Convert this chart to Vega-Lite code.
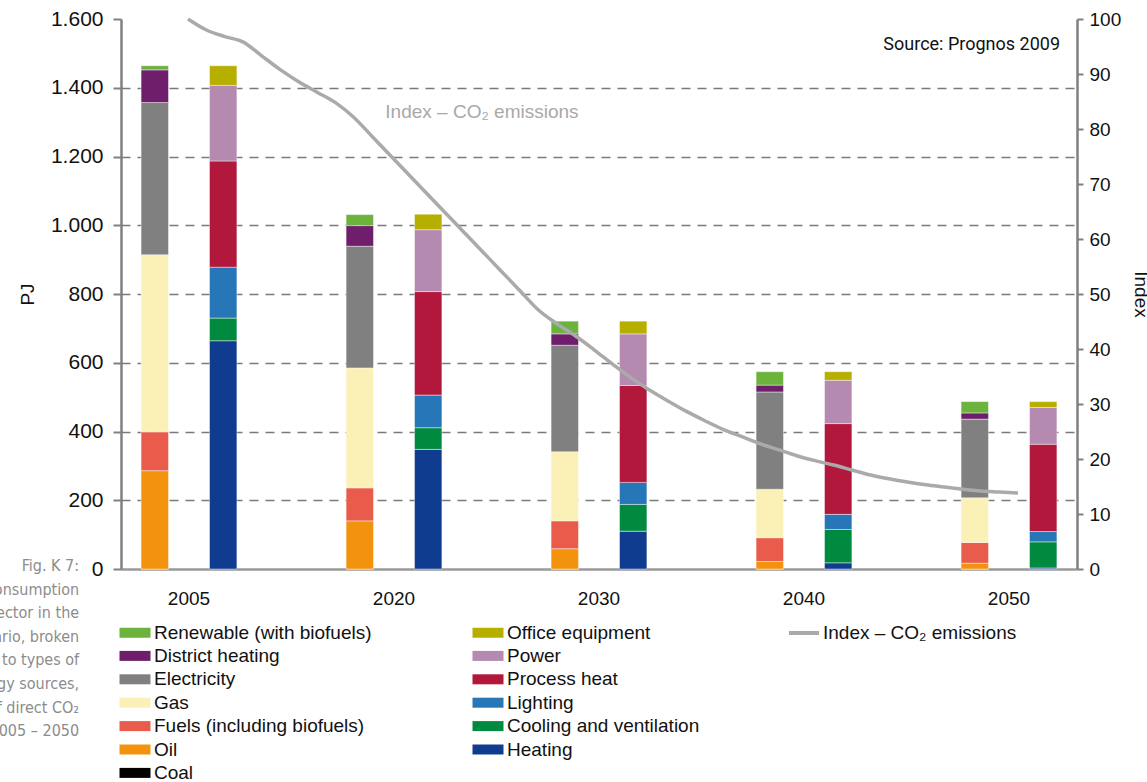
{
  "$schema": "https://vega.github.io/schema/vega-lite/v6.json",
  "width": 956,
  "height": 550,
  "autosize": {"type": "none"},
  "padding": {"left": 121, "top": 19, "right": 70, "bottom": 213},
  "background": "white",
  "config": {
    "view": {"stroke": null},
    "font": "Liberation Sans",
    "axis": {"labelFont": "Liberation Sans", "titleFont": "Liberation Sans", "labelColor": "#111111", "titleColor": "#111111", "titleFontWeight": "normal"},
    "legend": {"labelFont": "Liberation Sans", "labelColor": "#111111"}
  },
  "datasets": {
    "bars": [
      {"year": "2005", "kind": "source", "cat": "Coal", "pj": 0},
      {"year": "2005", "kind": "source", "cat": "Oil", "pj": 286},
      {"year": "2005", "kind": "source", "cat": "Fuels (including biofuels)", "pj": 113},
      {"year": "2005", "kind": "source", "cat": "Gas", "pj": 515},
      {"year": "2005", "kind": "source", "cat": "Electricity", "pj": 443},
      {"year": "2005", "kind": "source", "cat": "District heating", "pj": 95},
      {"year": "2005", "kind": "source", "cat": "Renewable (with biofuels)", "pj": 12},
      {"year": "2005", "kind": "use", "cat": "Heating", "pj": 664},
      {"year": "2005", "kind": "use", "cat": "Cooling and ventilation", "pj": 66},
      {"year": "2005", "kind": "use", "cat": "Lighting", "pj": 148},
      {"year": "2005", "kind": "use", "cat": "Process heat", "pj": 309},
      {"year": "2005", "kind": "use", "cat": "Power", "pj": 220},
      {"year": "2005", "kind": "use", "cat": "Office equipment", "pj": 57},
      {"year": "2020", "kind": "source", "cat": "Coal", "pj": 0},
      {"year": "2020", "kind": "source", "cat": "Oil", "pj": 140},
      {"year": "2020", "kind": "source", "cat": "Fuels (including biofuels)", "pj": 96},
      {"year": "2020", "kind": "source", "cat": "Gas", "pj": 349},
      {"year": "2020", "kind": "source", "cat": "Electricity", "pj": 354},
      {"year": "2020", "kind": "source", "cat": "District heating", "pj": 60},
      {"year": "2020", "kind": "source", "cat": "Renewable (with biofuels)", "pj": 32},
      {"year": "2020", "kind": "use", "cat": "Heating", "pj": 348},
      {"year": "2020", "kind": "use", "cat": "Cooling and ventilation", "pj": 63},
      {"year": "2020", "kind": "use", "cat": "Lighting", "pj": 95},
      {"year": "2020", "kind": "use", "cat": "Process heat", "pj": 301},
      {"year": "2020", "kind": "use", "cat": "Power", "pj": 180},
      {"year": "2020", "kind": "use", "cat": "Office equipment", "pj": 45},
      {"year": "2030", "kind": "source", "cat": "Coal", "pj": 0},
      {"year": "2030", "kind": "source", "cat": "Oil", "pj": 59},
      {"year": "2030", "kind": "source", "cat": "Fuels (including biofuels)", "pj": 81},
      {"year": "2030", "kind": "source", "cat": "Gas", "pj": 201},
      {"year": "2030", "kind": "source", "cat": "Electricity", "pj": 310},
      {"year": "2030", "kind": "source", "cat": "District heating", "pj": 33},
      {"year": "2030", "kind": "source", "cat": "Renewable (with biofuels)", "pj": 37},
      {"year": "2030", "kind": "use", "cat": "Heating", "pj": 110},
      {"year": "2030", "kind": "use", "cat": "Cooling and ventilation", "pj": 78},
      {"year": "2030", "kind": "use", "cat": "Lighting", "pj": 64},
      {"year": "2030", "kind": "use", "cat": "Process heat", "pj": 282},
      {"year": "2030", "kind": "use", "cat": "Power", "pj": 150},
      {"year": "2030", "kind": "use", "cat": "Office equipment", "pj": 37},
      {"year": "2040", "kind": "source", "cat": "Coal", "pj": 0},
      {"year": "2040", "kind": "source", "cat": "Oil", "pj": 22},
      {"year": "2040", "kind": "source", "cat": "Fuels (including biofuels)", "pj": 69},
      {"year": "2040", "kind": "source", "cat": "Gas", "pj": 141},
      {"year": "2040", "kind": "source", "cat": "Electricity", "pj": 283},
      {"year": "2040", "kind": "source", "cat": "District heating", "pj": 20},
      {"year": "2040", "kind": "source", "cat": "Renewable (with biofuels)", "pj": 39},
      {"year": "2040", "kind": "use", "cat": "Heating", "pj": 18},
      {"year": "2040", "kind": "use", "cat": "Cooling and ventilation", "pj": 97},
      {"year": "2040", "kind": "use", "cat": "Lighting", "pj": 44},
      {"year": "2040", "kind": "use", "cat": "Process heat", "pj": 264},
      {"year": "2040", "kind": "use", "cat": "Power", "pj": 126},
      {"year": "2040", "kind": "use", "cat": "Office equipment", "pj": 25},
      {"year": "2050", "kind": "source", "cat": "Coal", "pj": 0},
      {"year": "2050", "kind": "source", "cat": "Oil", "pj": 17},
      {"year": "2050", "kind": "source", "cat": "Fuels (including biofuels)", "pj": 60},
      {"year": "2050", "kind": "source", "cat": "Gas", "pj": 130},
      {"year": "2050", "kind": "source", "cat": "Electricity", "pj": 229},
      {"year": "2050", "kind": "source", "cat": "District heating", "pj": 18},
      {"year": "2050", "kind": "source", "cat": "Renewable (with biofuels)", "pj": 33},
      {"year": "2050", "kind": "use", "cat": "Heating", "pj": 3},
      {"year": "2050", "kind": "use", "cat": "Cooling and ventilation", "pj": 76},
      {"year": "2050", "kind": "use", "cat": "Lighting", "pj": 30},
      {"year": "2050", "kind": "use", "cat": "Process heat", "pj": 254},
      {"year": "2050", "kind": "use", "cat": "Power", "pj": 107},
      {"year": "2050", "kind": "use", "cat": "Office equipment", "pj": 17}
    ],
    "index": [
      {"yr": 2005, "idx": 100}, {"yr": 2006, "idx": 98}, {"yr": 2007, "idx": 96.8}, {"yr": 2008, "idx": 95.8},
      {"yr": 2009, "idx": 93.3}, {"yr": 2010, "idx": 90.8}, {"yr": 2011, "idx": 88.6}, {"yr": 2012, "idx": 86.7},
      {"yr": 2013, "idx": 84.8}, {"yr": 2014, "idx": 82.1}, {"yr": 2015, "idx": 78.6}, {"yr": 2016, "idx": 75.1},
      {"yr": 2017, "idx": 71.6}, {"yr": 2018, "idx": 68.1}, {"yr": 2019, "idx": 64.6}, {"yr": 2020, "idx": 61.1},
      {"yr": 2021, "idx": 57.6}, {"yr": 2022, "idx": 54.1}, {"yr": 2023, "idx": 50.6}, {"yr": 2024, "idx": 47.1},
      {"yr": 2025, "idx": 44.6}, {"yr": 2026, "idx": 42.4}, {"yr": 2027, "idx": 39.9}, {"yr": 2028, "idx": 37.3},
      {"yr": 2029, "idx": 34.8}, {"yr": 2030, "idx": 32.6}, {"yr": 2031, "idx": 30.6}, {"yr": 2032, "idx": 28.7},
      {"yr": 2033, "idx": 27}, {"yr": 2034, "idx": 25.4}, {"yr": 2035, "idx": 24.1}, {"yr": 2036, "idx": 22.8},
      {"yr": 2037, "idx": 21.7}, {"yr": 2038, "idx": 20.6}, {"yr": 2039, "idx": 19.7}, {"yr": 2040, "idx": 18.9},
      {"yr": 2041, "idx": 18}, {"yr": 2042, "idx": 17.1}, {"yr": 2043, "idx": 16.4}, {"yr": 2044, "idx": 15.8},
      {"yr": 2045, "idx": 15.3}, {"yr": 2046, "idx": 14.9}, {"yr": 2047, "idx": 14.5}, {"yr": 2048, "idx": 14.2},
      {"yr": 2049, "idx": 14}, {"yr": 2050, "idx": 13.8}
    ]
  },
  "layer": [
    {
      "data": {"name": "bars"},
      "transform": [
        {"calculate": "indexof(['Coal','Oil','Fuels (including biofuels)','Gas','Electricity','District heating','Renewable (with biofuels)','Heating','Cooling and ventilation','Lighting','Process heat','Power','Office equipment'], datum.cat)", "as": "ord"}
      ],
      "mark": {"type": "bar", "stroke": "#ffffff", "strokeWidth": 0.6, "strokeOpacity": 0.7},
      "encoding": {
        "x": {
          "field": "year", "type": "nominal",
          "scale": {"paddingInner": 0.5, "paddingOuter": 0.0817},
          "axis": {"title": null, "labelAngle": 0, "ticks": false, "domainColor": "#999999", "domainWidth": 2.5, "labelPadding": 20, "labelFontSize": 19}
        },
        "xOffset": {"field": "kind", "type": "nominal", "scale": {"paddingInner": 0.6, "paddingOuter": 0.049}},
        "y": {
          "field": "pj", "type": "quantitative", "stack": "zero",
          "scale": {"domain": [0, 1600], "nice": false},
          "axis": {
            "title": "PJ", "values": [0, 200, 400, 600, 800, 1000, 1200, 1400, 1600],
            "labelExpr": "replace(format(datum.value, ','), ',', '.')",
            "tickSize": 8, "tickColor": "#808080", "tickWidth": 2,
            "domainColor": "#808080", "domainWidth": 2.5,
            "labelPadding": 10, "labelFontSize": 21,
            "grid": true, "gridDash": [9, 7], "gridColor": "#7a7a7a", "gridWidth": 1.6,
            "gridOpacity": {"condition": {"test": "datum.value === 0 || datum.value === 1600", "value": 0}, "value": 1},
            "titleFontSize": 19, "titlePadding": 13
          }
        },
        "color": {
          "field": "cat", "type": "nominal",
          "scale": {
            "domain": ["Renewable (with biofuels)", "District heating", "Electricity", "Gas", "Fuels (including biofuels)", "Oil", "Coal", "Office equipment", "Power", "Process heat", "Lighting", "Cooling and ventilation", "Heating"],
            "range": ["#6CB33E", "#6E1E6B", "#808080", "#FBF0B5", "#E95B4B", "#F3920D", "#000000", "#B7AF00", "#B48AB0", "#B2173C", "#2676B8", "#008A40", "#0F3C8F"]
          },
          "legend": {
            "orient": "none", "legendX": -6, "legendY": 604, "columns": 2, "columnPadding": 96, "rowPadding": 3.4,
            "symbolType": "M-1,-1H5.2V1H-1Z", "symbolSize": 100, "symbolStrokeWidth": 0, "symbolOpacity": 1,
            "labelFontSize": 19, "labelOffset": 20, "labelLimit": 400, "title": null
          }
        },
        "order": {"field": "ord", "type": "quantitative", "sort": "ascending"}
      }
    },
    {
      "layer": [
        {
          "data": {"name": "index"},
          "mark": {"type": "line", "strokeWidth": 3.5, "interpolate": "monotone"},
          "encoding": {
            "x": {"field": "yr", "type": "quantitative", "scale": {"domain": [2001.37, 2053.2], "nice": false, "zero": false}, "axis": null},
            "y": {
              "field": "idx", "type": "quantitative",
              "scale": {"domain": [0, 100], "nice": false},
              "axis": {
                "orient": "right", "title": "Index", "values": [0, 10, 20, 30, 40, 50, 60, 70, 80, 90, 100],
                "tickSize": 6, "tickColor": "#808080", "tickWidth": 2, "domainColor": "#808080", "domainWidth": 2.5,
                "labelPadding": 6, "labelFontSize": 19, "titleFontSize": 19, "titlePadding": 10, "grid": false
              }
            },
            "stroke": {
              "datum": "Index – CO₂ emissions", "type": "nominal",
              "scale": {"range": ["#aaaaaa"]},
              "legend": {"orient": "none", "legendX": 666, "legendY": 597, "title": null, "symbolType": "stroke", "symbolSize": 900, "symbolStrokeWidth": 4, "labelFontSize": 19, "labelOffset": 2, "labelLimit": 400}
            }
          }
        },
        {
          "data": {"values": [{"label": "Index – CO₂ emissions"}]},
          "mark": {"type": "text", "align": "left", "baseline": "middle", "fontSize": 19, "color": "#a9a9a9"},
          "encoding": {
            "x": {"datum": 2015.7, "type": "quantitative"},
            "y": {"datum": 83.1, "type": "quantitative"},
            "text": {"field": "label"}
          }
        },
        {
          "data": {"values": [{"label": "Source: Prognos 2009"}]},
          "mark": {"type": "text", "align": "right", "baseline": "middle", "fontSize": 18, "font": "Roboto", "color": "#111111"},
          "encoding": {
            "x": {"datum": 2052.28, "type": "quantitative"},
            "y": {"datum": 95.3, "type": "quantitative"},
            "text": {"field": "label"}
          }
        },
        {
          "data": {"values": [{"label": ["Fig. K 7:", "onsumption", "sector in the", "ario, broken", "g to types of", "gy sources,", "f direct CO₂", "005 – 2050"]}]},
          "mark": {"type": "text", "align": "right", "baseline": "alphabetic", "fontSize": 16, "font": "DejaVu Sans Condensed, Roboto", "color": "#8c8c8c", "lineHeight": 23.6},
          "encoding": {
            "x": {"datum": 1999.1, "type": "quantitative"},
            "y": {"datum": -0.37, "type": "quantitative"},
            "text": {"field": "label"}
          }
        }
      ]
    }
  ],
  "resolve": {"scale": {"x": "independent", "y": "independent", "color": "independent"}}
}
